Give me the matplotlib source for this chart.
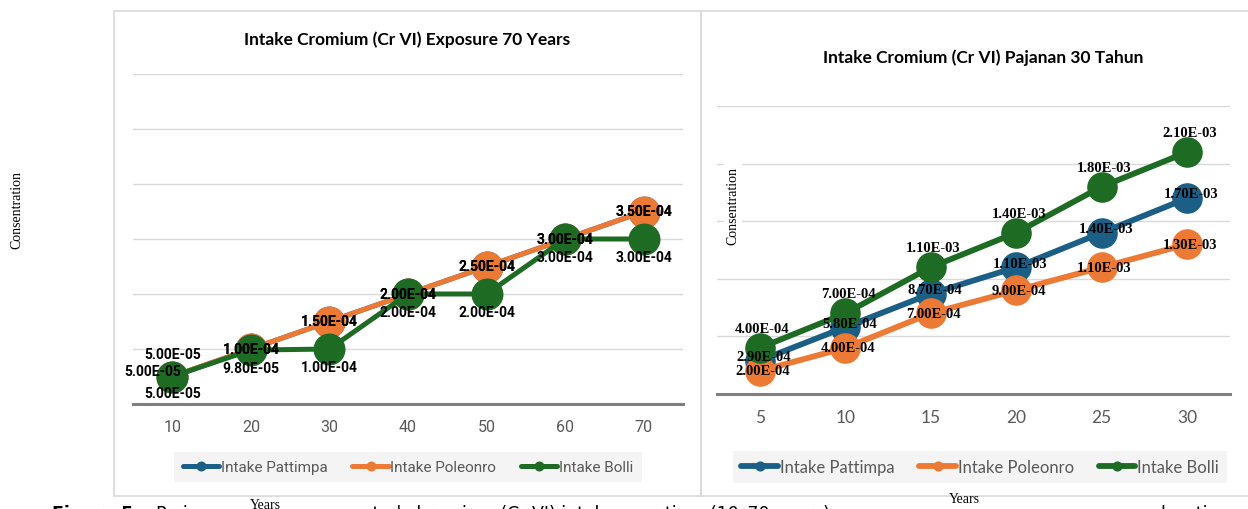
import numpy as np
import matplotlib.pyplot as plt
from matplotlib.patches import Rectangle

# 70-year exposure
years_70 = [10, 20, 30, 40, 50, 60, 70]
pattimpa_70 = [5.0e-5, 1.0e-4, 1.5e-4, 2.0e-4, 2.5e-4, 3.0e-4, 3.5e-4]
poleonro_70 = [5.0e-5, 1.0e-4, 1.5e-4, 2.0e-4, 2.5e-4, 3.0e-4, 3.5e-4]
bolli_70 = [5.0e-5, 9.8e-5, 1.0e-4, 2.0e-4, 2.0e-4, 3.0e-4, 3.0e-4]

# 30-year exposure (pajanan 30 tahun)
years_30 = [5, 10, 15, 20, 25, 30]
pattimpa_30 = [2.9e-4, 5.8e-4, 8.7e-4, 1.1e-3, 1.4e-3, 1.7e-3]
poleonro_30 = [2.0e-4, 4.0e-4, 7.0e-4, 9.0e-4, 1.1e-3, 1.3e-3]
bolli_30 = [4.0e-4, 7.0e-4, 1.1e-3, 1.4e-3, 1.8e-3, 2.1e-3]

series_names = ['Intake Pattimpa', 'Intake Poleonro', 'Intake Bolli']
colors = ['#1b5f86', '#ec7a34', '#1e6b23']

W, H = 1248, 510


def fx(px):
    return px / W


def fy(py):
    return 1 - py / H


def style_axes(ax, ticks, step, n_grid, xlim, tick_font, tick_size):
    ax.set_xlim(*xlim)
    ax.set_ylim(0, step * n_grid)
    ax.set_yticks(np.arange(0, step * n_grid + step / 2, step))
    ax.set_yticklabels([])
    ax.tick_params(axis='y', length=0)
    ax.set_xticks(ticks)
    ax.set_xticklabels([str(t) for t in ticks], fontsize=tick_size,
                       family=tick_font, color='#595959')
    ax.tick_params(axis='x', length=0, pad=11)
    ax.grid(axis='y', color='#d9d9d9', linewidth=1)
    ax.set_axisbelow(True)
    for side in ['top', 'left', 'right']:
        ax.spines[side].set_visible(False)
    ax.spines['bottom'].set_color('#7f7f7f')
    ax.spines['bottom'].set_linewidth(2.2)
    ax.set_facecolor('none')


fig = plt.figure(figsize=(W / 100, H / 100), dpi=100)

# chart frames
fig.add_artist(Rectangle((fx(114), fy(497)), fx(701) - fx(114), fy(12) - fy(497),
                         transform=fig.transFigure, fill=False,
                         edgecolor='#d9d9d9', linewidth=1.2))
fig.add_artist(Rectangle((fx(701), fy(497)), fx(1260) - fx(701), fy(12) - fy(497),
                         transform=fig.transFigure, fill=False,
                         edgecolor='#d9d9d9', linewidth=1.2))

# ---- left chart: 70 years ----
ax1 = fig.add_axes([fx(133), fy(405), fx(683) - fx(133), fy(75) - fy(405)])
style_axes(ax1, years_70, 1e-4, 6, (5, 75), 'Roboto', 11.5)

data_70 = [pattimpa_70, poleonro_70, bolli_70]
offsets_70 = [(0, 0), (0, 0), (0, -13)]
first_70 = [(0, -12), (-14, 4), (0, 16)]
for name, vals, c in zip(series_names, data_70, colors):
    ax1.plot(years_70, vals, color=c, linewidth=3.6, marker='o', markersize=22,
             label=name, clip_on=False, solid_capstyle='round')
for vals, off, first in zip(data_70, offsets_70, first_70):
    for i, (x, v) in enumerate(zip(years_70, vals)):
        dx, dy = first if i == 0 else off
        ax1.annotate(f'{v:.2E}', (x, v), xytext=(dx, dy), textcoords='offset points',
                     ha='center', va='center', fontsize=10, fontweight='bold',
                     family='Roboto', color='black', annotation_clip=False)

fig.text(fx(407), fy(40), 'Intake Cromium (Cr VI) Exposure 70 Years', ha='center',
         va='center', fontsize=12.5, fontweight='bold', family='Lato')

handles, labels = ax1.get_legend_handles_labels()
leg1 = fig.legend(handles, labels, loc='center', bbox_to_anchor=(fx(408), fy(468)),
                  bbox_transform=fig.transFigure, ncol=3, frameon=True,
                  facecolor='#f2f2f2', edgecolor='none', fancybox=False,
                  prop={'family': 'Roboto', 'size': 11}, handlelength=2.4,
                  handletextpad=0.1, columnspacing=1.6, borderpad=0.55,
                  markerscale=0.28)
for t in leg1.get_texts():
    t.set_color('#595959')

# ---- right chart: 30 years ----
ax2 = fig.add_axes([fx(717), fy(395), fx(1230) - fx(717), fy(107) - fy(395)])
style_axes(ax2, years_30, 5e-4, 5, (2.5, 32.5), 'Lato', 12.5)

data_30 = [pattimpa_30, poleonro_30, bolli_30]
offsets_30 = [(3, 3), (2, 0), (2, 14)]
for name, vals, c in zip(series_names, data_30, colors):
    ax2.plot(years_30, vals, color=c, linewidth=4.2, marker='o', markersize=21,
             label=name, clip_on=False, solid_capstyle='round')
for vals, off in zip(data_30, offsets_30):
    for x, v in zip(years_30, vals):
        ax2.annotate(f'{v:.2E}', (x, v), xytext=off, textcoords='offset points',
                     ha='center', va='center', fontsize=10.5, fontweight='bold',
                     family='Liberation Serif', color='black',
                     annotation_clip=False)

fig.text(fx(983), fy(58), 'Intake Cromium (Cr VI) Pajanan 30 Tahun', ha='center',
         va='center', fontsize=12.5, fontweight='bold', family='Lato')

handles, labels = ax2.get_legend_handles_labels()
leg2 = fig.legend(handles, labels, loc='center', bbox_to_anchor=(fx(980), fy(468)),
                  bbox_transform=fig.transFigure, ncol=3, frameon=True,
                  facecolor='#f2f2f2', edgecolor='none', fancybox=False,
                  prop={'family': 'Lato', 'size': 12},
                  handlelength=2.2, handletextpad=0.1, columnspacing=1.5,
                  borderpad=0.5, markerscale=0.3)
for t in leg2.get_texts():
    t.set_color('#595959')

# axis titles
fig.text(fx(17), fy(210), 'Consentration', rotation=90, ha='center', va='center',
         fontsize=10, family='Liberation Serif')
fig.text(fx(733), fy(206), 'Consentration', rotation=90, ha='center', va='center',
         fontsize=10, family='Liberation Serif',
         bbox=dict(facecolor='white', edgecolor='none', pad=2))
fig.text(fx(265), fy(499), 'Years', ha='center', va='top', fontsize=10,
         family='Liberation Serif')
fig.text(fx(964), fy(493), 'Years', ha='center', va='top', fontsize=10,
         family='Liberation Serif')

# caption line, cut off by the lower edge
fig.text(fx(52), fy(519), 'Figure 5.', ha='left', va='baseline', fontsize=12.5,
         fontweight='bold', family='DejaVu Sans')
fig.text(fx(155), fy(519), 'Proj', ha='left', va='baseline', fontsize=12.5,
         family='DejaVu Sans')
fig.text(fx(352), fy(519), 'ected chromium (Cr VI) intake over time (10\u201370 years)',
         ha='left', va='baseline', fontsize=12.5, family='DejaVu Sans')
fig.text(fx(1160), fy(519), 'location', ha='left', va='baseline', fontsize=12.5,
         family='DejaVu Sans')

fig.savefig('out.png', dpi=100)
